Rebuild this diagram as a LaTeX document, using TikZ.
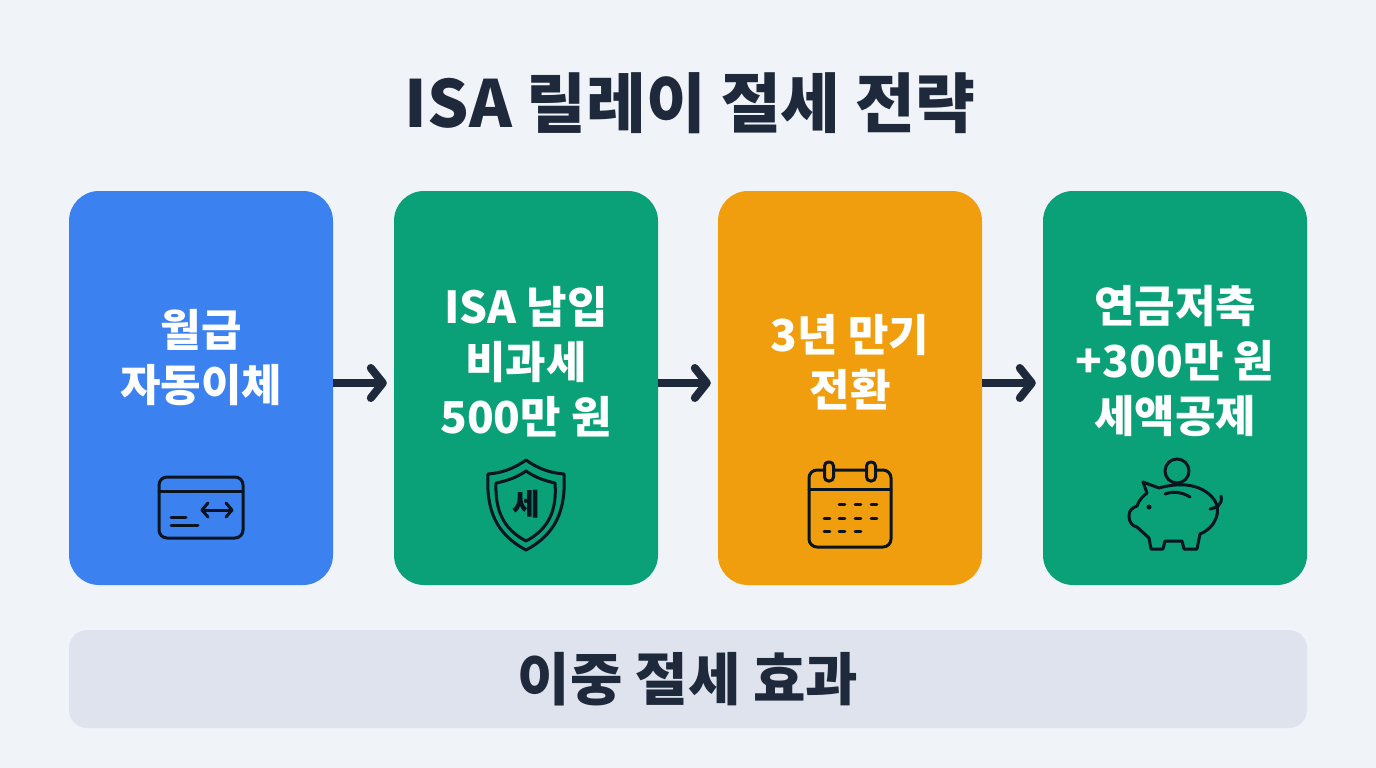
\documentclass[tikz,border=0pt]{standalone}
\usepackage{fontspec}
\setmainfont{Noto Sans CJK KR}
\usetikzlibrary{arrows.meta}
\definecolor{pagebg}{HTML}{F0F3F8}
\definecolor{barbg}{HTML}{DFE3ED}
\definecolor{inkdark}{HTML}{1E293B}
\definecolor{iconink}{HTML}{08141F}
\definecolor{cardblue}{HTML}{3B82F0}
\definecolor{cardgreen}{HTML}{0AA078}
\definecolor{cardorange}{HTML}{F09E0E}
\tikzset{
    card/.style={minimum width=264pt,minimum height=394pt,rounded corners=30pt,inner sep=0pt},
    cardtext/.style={text=white,font=\fontsize{44}{55}\selectfont\bfseries,align=center,inner sep=0pt},
    flowarrow/.style={draw=inkdark,line width=8pt,-{Straight Barb[length=12pt,width=30pt,round,line width=8pt]},shorten >=7pt},
    icon/.style={draw=iconink,line width=3pt,line cap=round,line join=round}
}
\begin{document}
\begin{tikzpicture}[x=1pt,y=-1pt]
    \fill[pagebg] (0,0) rectangle (1376,768);
    \useasboundingbox (0,0) rectangle (1376,768);
    \node[text=inkdark,font=\fontsize{65}{65}\selectfont\bfseries,inner sep=0pt] (title) at (690,103) {ISA 릴레이 절세 전략};

    \node[card,fill=cardblue] (salary) at (201,388) {};
    \node[card,fill=cardgreen] (isa) at (526,388) {};
    \node[card,fill=cardorange] (maturity) at (850,388) {};
    \node[card,fill=cardgreen] (pension) at (1175,388) {};

    \node[cardtext] (salarytext) at (201,357.5) {월급\\자동이체};
    \node[cardtext] (isatext) at (526,361.5) {ISA 납입\\비과세\\500만 원};
    \node[cardtext] (maturitytext) at (850,362) {3년 만기\\전환};
    \node[cardtext] (pensiontext) at (1175,361.5) {연금저축\\+300만 원\\세액공제};

    \draw[flowarrow] ([yshift=5pt]salary.east) -- ([yshift=5pt]isa.west);
    \draw[flowarrow] ([yshift=5pt]isa.east) -- ([yshift=5pt]maturity.west);
    \draw[flowarrow] ([yshift=5pt]maturity.east) -- ([yshift=5pt]pension.west);

    % transfer card
    \draw[icon,rounded corners=8pt] (159,477) rectangle (243,538);
    \draw[icon] (159,491) -- (243,491);
    \draw[icon] (202,510) -- (232,510);
    \draw[icon] (208,503) -- (202,510) -- (208,517);
    \draw[icon] (226,503) -- (232,510) -- (226,517);
    \draw[icon] (171,517) -- (186,517);
    \draw[icon] (171,525) -- (198,525);

    % shield
    \draw[icon] (526,460) .. controls (512,470) and (500,473) .. (488,474) .. controls (486,510) and (496,534) .. (526,550) .. controls (556,534) and (566,510) .. (564,474) .. controls (552,473) and (540,470) .. (526,460) -- cycle;
    \draw[icon] (526,471) .. controls (516,478) and (506,481) .. (496,483) .. controls (495,510) and (503,529) .. (526,541) .. controls (549,529) and (557,510) .. (555,483) .. controls (546,481) and (536,478) .. (526,471) -- cycle;
    \node[text=iconink,font=\fontsize{30}{30}\selectfont\bfseries,inner sep=0pt] (shieldtext) at (526,504) {세};

    % calendar
    \draw[icon,rounded corners=8pt] (809,470) rectangle (891,547);
    \draw[icon] (809,489) -- (891,489);
    \foreach \ringx in {829,871}
        \draw[icon,fill=cardorange,rounded corners=4pt] (\ringx-4.5,462) rectangle (\ringx+4.5,481);
    \foreach \dashx/\dashy in {842/504,858/504,874/504,827/518,842/518,858/518,874/518,827/531,842/531,858/531}
        \draw[icon] (\dashx-2.8,\dashy) -- (\dashx+2.8,\dashy);

    % piggy bank
    \draw[icon] (1177,471) circle (12pt);
    \draw[icon] (1143,482) -- (1159,488) .. controls (1180,482) and (1200,484) .. (1212,497) .. controls (1224,510) and (1215,528) .. (1200,534) -- (1197,549) -- (1184,549) -- (1182,541) -- (1165,541) -- (1163,549) -- (1151,549) -- (1149,538) -- (1137,527) .. controls (1132,526) and (1129,522) .. (1129,516) .. controls (1129,510) and (1132,508) .. (1137,506) .. controls (1139,500) and (1143,496) .. (1147,493) -- cycle;
    \draw[icon] (1210,509) .. controls (1216,508) and (1223,505) .. (1221,496);
    \draw[icon] (1165,494) .. controls (1173,491) and (1182,492) .. (1190,497);
    \fill[iconink] (1149,507) circle (2.5pt);

    \node[fill=barbg,minimum width=1238pt,minimum height=98pt,rounded corners=18pt,inner sep=0pt,text=inkdark,font=\fontsize{57}{57}\selectfont\bfseries] (effect) at (688,679) {\raisebox{-2pt}{이중 절세 효과}};
\end{tikzpicture}
\end{document}
